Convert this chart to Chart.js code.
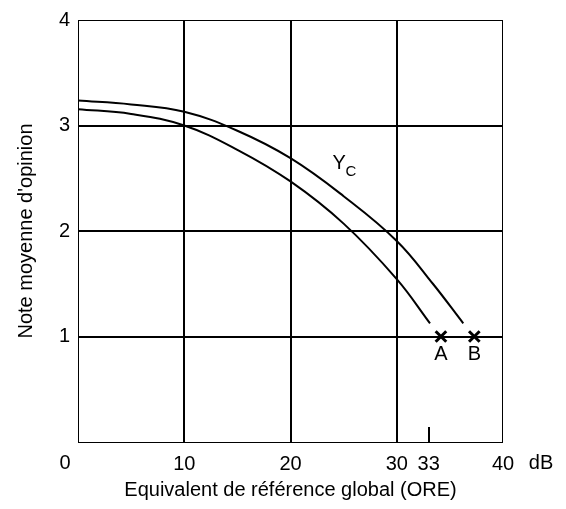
<!DOCTYPE html>
<html>
<head>
<meta charset="utf-8">
<script src="https://cdn.jsdelivr.net/npm/chart.js@4.4.1/dist/chart.umd.min.js"></script>
<style>
  html, body { margin: 0; padding: 0; background: #fff; }
  #wrap { width: 566px; height: 509px; }
</style>
</head>
<body>
<div id="wrap"><canvas id="c" width="566" height="509"></canvas></div>
<script>
// Opinion score vs. overall reference equivalent (ORE), two curves ending at points A and B
const xTickValues = [0, 10, 20, 30, 33, 40];
const yTickValues = [0, 1, 2, 3, 4];

// Lower curve, ending at A
const curveAX = [0, 5, 10, 15, 20, 25, 30, 33.13];
const curveAY = [3.155, 3.11, 3.0, 2.77, 2.47, 2.07, 1.544, 1.125];

// Upper curve (Yc), ending at B
const curveBX = [0, 5, 10, 15, 20, 25, 30, 33.4, 36.26];
const curveBY = [3.236, 3.2, 3.13, 2.95, 2.69, 2.33, 1.906, 1.5, 1.125];

// Marked points
const markerNames = ['A', 'B'];
const markerX = [34.16, 37.3];
const markerY = [1, 1];

const curveLabel = { main: 'Y', sub: 'C', x: 24.6, y: 2.64 };

const FONT = '"Liberation Sans", Arial, Helvetica, sans-serif';

const toPts = (xs, ys) => xs.map((x, i) => ({ x: x, y: ys[i] }));

const annotations = {
  id: 'annotations',
  beforeDatasetsDraw(chart) {
    const { ctx, chartArea: a, scales: { x } } = chart;
    ctx.save();
    // frame
    ctx.strokeStyle = '#000';
    ctx.lineWidth = 1;
    ctx.strokeRect(a.left + 0.5, a.top + 0.5, a.right - a.left - 1, a.bottom - a.top);
    // short tick at 33 dB
    const x33 = Math.round(x.getPixelForValue(33));
    ctx.lineWidth = 2;
    ctx.beginPath();
    ctx.moveTo(x33, a.bottom);
    ctx.lineTo(x33, a.bottom - 15);
    ctx.stroke();
    ctx.restore();
  },
  afterDatasetsDraw(chart) {
    const { ctx, chartArea: a, scales: { x, y } } = chart;
    ctx.save();
    ctx.fillStyle = '#000';
    ctx.font = '20px ' + FONT;
    ctx.textAlign = 'center';
    ctx.textBaseline = 'middle';
    // point names below the markers
    markerNames.forEach((n, i) => {
      ctx.fillText(n, x.getPixelForValue(markerX[i]), y.getPixelForValue(markerY[i]) + 18);
    });
    // curve label Yc
    const lx = x.getPixelForValue(curveLabel.x);
    const ly = y.getPixelForValue(curveLabel.y);
    ctx.textAlign = 'left';
    ctx.fillText(curveLabel.main, lx - 7, ly);
    ctx.font = '15px ' + FONT;
    ctx.fillText(curveLabel.sub, lx + 6, ly + 8);
    // origin label and unit on the x axis row
    ctx.font = '20px ' + FONT;
    ctx.textAlign = 'center';
    const rowY = a.bottom + 21;
    ctx.fillText('0', x.getPixelForValue(0) - 13, rowY);
    ctx.fillText('dB', x.getPixelForValue(40) + 38, rowY);
    ctx.restore();
  }
};

new Chart(document.getElementById('c'), {
  type: 'scatter',
  data: {
    datasets: [
      {
        data: toPts(curveAX, curveAY),
        showLine: true,
        borderColor: '#000',
        borderWidth: 2,
        pointRadius: 0,
        tension: 0.4,
        fill: false
      },
      {
        data: toPts(curveBX, curveBY),
        showLine: true,
        borderColor: '#000',
        borderWidth: 2,
        pointRadius: 0,
        tension: 0.4,
        fill: false
      },
      {
        data: toPts(markerX, markerY),
        showLine: false,
        pointStyle: 'crossRot',
        pointRadius: 7.5,
        pointBorderWidth: 3,
        borderColor: '#000',
        backgroundColor: '#000'
      }
    ]
  },
  options: {
    responsive: false,
    animation: false,
    devicePixelRatio: 1,
    layout: { padding: { top: 18, right: 63, left: 0, bottom: 0 } },
    plugins: { legend: { display: false }, tooltip: { enabled: false } },
    scales: {
      x: {
        type: 'linear',
        min: 0,
        max: 40,
        afterFit(s) { s.height = 67; },
        afterBuildTicks(s) { s.ticks = xTickValues.map(v => ({ value: v })); },
        border: { display: false },
        grid: {
          drawTicks: false,
          lineWidth: 2,
          color: c => (c.tick && [10, 20, 30].includes(c.tick.value)) ? '#000' : 'rgba(0,0,0,0)'
        },
        ticks: {
          padding: 10,
          color: '#000',
          font: { family: FONT, size: 20 },
          maxRotation: 0,
          autoSkip: false,
          callback: v => (v === 0 ? '' : String(v))
        },
        title: {
          display: true,
          text: 'Equivalent de référence global (ORE)',
          color: '#000',
          font: { family: FONT, size: 20 },
          padding: { top: 0, bottom: 7 }
        }
      },
      y: {
        type: 'linear',
        min: 0,
        max: 4,
        afterFit(s) { s.width = 78; },
        afterBuildTicks(s) { s.ticks = yTickValues.map(v => ({ value: v })); },
        border: { display: false },
        grid: {
          drawTicks: false,
          lineWidth: 2,
          color: c => (c.tick && [1, 2, 3].includes(c.tick.value)) ? '#000' : 'rgba(0,0,0,0)'
        },
        ticks: {
          padding: 8,
          color: '#000',
          font: { family: FONT, size: 20 },
          callback: v => (v === 0 ? '' : String(v))
        },
        title: {
          display: true,
          text: "Note moyenne d'opinion",
          color: '#000',
          font: { family: FONT, size: 20 },
          padding: { top: 14, bottom: 0 }
        }
      }
    }
  },
  plugins: [annotations]
});
</script>
</body>
</html>
